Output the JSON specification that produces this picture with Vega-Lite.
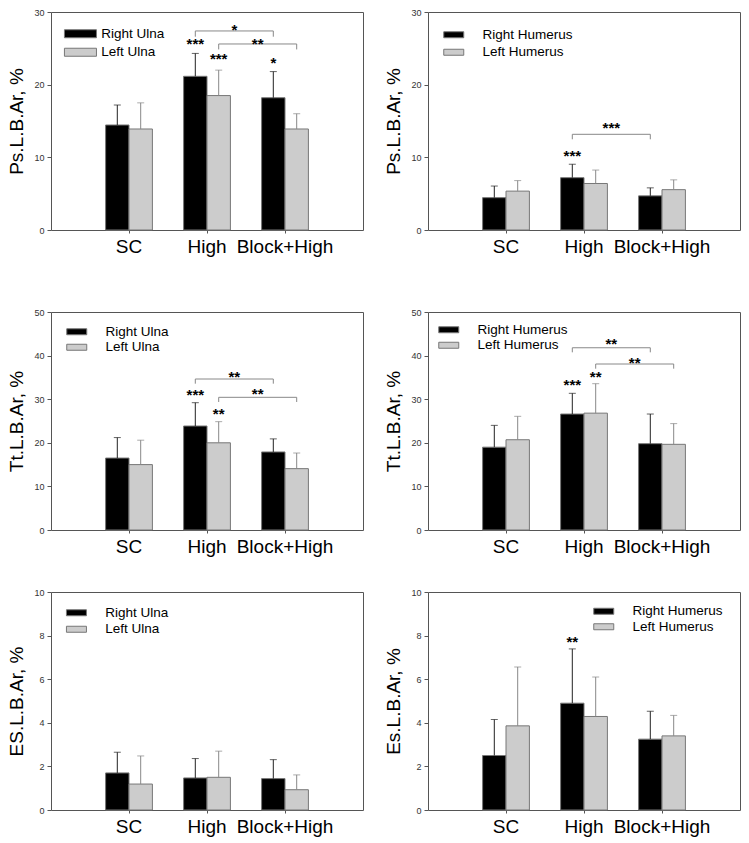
{
  "$schema": "https://vega.github.io/schema/vega-lite/v6.json",
  "background": "white",
  "padding": {"left": 7, "top": 7, "right": 0, "bottom": 0},
  "config": {
    "font": "Liberation Sans",
    "view": {"stroke": "#555555", "strokeWidth": 1},
    "axis": {"grid": false, "labelFont": "Liberation Sans", "titleFont": "Liberation Sans", "tickColor": "#555555"},
    "axisX": {"domain": false, "ticks": true, "tickSize": 3, "labelFontSize": 19, "labelColor": "#000000", "labelPadding": 4, "labelAngle": 0, "title": null},
    "axisY": {"domain": false, "tickSize": 4, "labelFontSize": 9, "labelColor": "#333333", "labelPadding": 3, "titleFontSize": 19, "titleFontWeight": "normal", "titleColor": "#000000", "titlePadding": 7},
    "legend": {"title": null, "labelFont": "Liberation Sans", "labelFontSize": 13.5, "labelColor": "#000000", "padding": 0, "symbolStrokeColor": "#777777", "symbolStrokeWidth": 1}
  },
  "datasets": {
    "p1": [
      {"cat": "SC", "side": "Right", "group": "Right Ulna", "mean": 14.45, "hi": 17.2},
      {"cat": "SC", "side": "Left", "group": "Left Ulna", "mean": 13.9, "hi": 17.5},
      {"cat": "High", "side": "Right", "group": "Right Ulna", "mean": 21.15, "hi": 24.3},
      {"cat": "High", "side": "Left", "group": "Left Ulna", "mean": 18.5, "hi": 22.0},
      {"cat": "Block+High", "side": "Right", "group": "Right Ulna", "mean": 18.2, "hi": 21.8},
      {"cat": "Block+High", "side": "Left", "group": "Left Ulna", "mean": 13.9, "hi": 16.0}
    ],
    "p1s": [
      {"cat": "High", "side": "Right", "y": 24.9, "label": "***"},
      {"cat": "High", "side": "Left", "y": 22.9, "label": "***"},
      {"cat": "Block+High", "side": "Right", "y": 22.3, "label": "*"}
    ],
    "p1l": [
      {"cat": "High", "side": "Right", "y": 26.85, "label": "*"},
      {"cat": "High", "side": "Left", "y": 24.95, "label": "**"}
    ],
    "p1b": [
      {"id": 1, "k": 1, "cat": "High", "side": "Right", "y": 26.6},
      {"id": 1, "k": 2, "cat": "High", "side": "Right", "y": 27.39},
      {"id": 1, "k": 3, "cat": "Block+High", "side": "Right", "y": 27.39},
      {"id": 1, "k": 4, "cat": "Block+High", "side": "Right", "y": 26.6},
      {"id": 2, "k": 1, "cat": "High", "side": "Left", "y": 24.85},
      {"id": 2, "k": 2, "cat": "High", "side": "Left", "y": 25.6},
      {"id": 2, "k": 3, "cat": "Block+High", "side": "Left", "y": 25.6},
      {"id": 2, "k": 4, "cat": "Block+High", "side": "Left", "y": 24.85}
    ],
    "p2": [
      {"cat": "SC", "side": "Right", "group": "Right Humerus", "mean": 4.45, "hi": 6.05},
      {"cat": "SC", "side": "Left", "group": "Left Humerus", "mean": 5.35, "hi": 6.8},
      {"cat": "High", "side": "Right", "group": "Right Humerus", "mean": 7.2, "hi": 9.05},
      {"cat": "High", "side": "Left", "group": "Left Humerus", "mean": 6.4, "hi": 8.25},
      {"cat": "Block+High", "side": "Right", "group": "Right Humerus", "mean": 4.7, "hi": 5.8},
      {"cat": "Block+High", "side": "Left", "group": "Left Humerus", "mean": 5.55, "hi": 6.9}
    ],
    "p2s": [
      {"cat": "High", "side": "Right", "y": 9.46, "label": "***"}
    ],
    "p2l": [
      {"cat": "High", "side": "Right", "y": 13.36, "label": "***"}
    ],
    "p2b": [
      {"id": 1, "k": 1, "cat": "High", "side": "Right", "y": 12.48},
      {"id": 1, "k": 2, "cat": "High", "side": "Right", "y": 13.17},
      {"id": 1, "k": 3, "cat": "Block+High", "side": "Right", "y": 13.17},
      {"id": 1, "k": 4, "cat": "Block+High", "side": "Right", "y": 12.48}
    ],
    "p3": [
      {"cat": "SC", "side": "Right", "group": "Right Ulna", "mean": 16.5, "hi": 21.2},
      {"cat": "SC", "side": "Left", "group": "Left Ulna", "mean": 15.0, "hi": 20.6},
      {"cat": "High", "side": "Right", "group": "Right Ulna", "mean": 23.85, "hi": 29.2},
      {"cat": "High", "side": "Left", "group": "Left Ulna", "mean": 20.0, "hi": 24.85},
      {"cat": "Block+High", "side": "Right", "group": "Right Ulna", "mean": 17.9, "hi": 20.9},
      {"cat": "Block+High", "side": "Left", "group": "Left Ulna", "mean": 14.07, "hi": 17.66}
    ],
    "p3s": [
      {"cat": "High", "side": "Right", "y": 29.9, "label": "***"},
      {"cat": "High", "side": "Left", "y": 25.5, "label": "**"}
    ],
    "p3l": [
      {"cat": "High", "side": "Right", "y": 34.0, "label": "**"},
      {"cat": "High", "side": "Left", "y": 30.06, "label": "**"}
    ],
    "p3b": [
      {"id": 1, "k": 1, "cat": "High", "side": "Right", "y": 33.56},
      {"id": 1, "k": 2, "cat": "High", "side": "Right", "y": 34.63},
      {"id": 1, "k": 3, "cat": "Block+High", "side": "Right", "y": 34.63},
      {"id": 1, "k": 4, "cat": "Block+High", "side": "Right", "y": 33.56},
      {"id": 2, "k": 1, "cat": "High", "side": "Left", "y": 29.36},
      {"id": 2, "k": 2, "cat": "High", "side": "Left", "y": 30.43},
      {"id": 2, "k": 3, "cat": "Block+High", "side": "Left", "y": 30.43},
      {"id": 2, "k": 4, "cat": "Block+High", "side": "Left", "y": 29.36}
    ],
    "p4": [
      {"cat": "SC", "side": "Right", "group": "Right Humerus", "mean": 19.0, "hi": 24.0},
      {"cat": "SC", "side": "Left", "group": "Left Humerus", "mean": 20.7, "hi": 26.07},
      {"cat": "High", "side": "Right", "group": "Right Humerus", "mean": 26.6, "hi": 31.35},
      {"cat": "High", "side": "Left", "group": "Left Humerus", "mean": 26.8, "hi": 33.56},
      {"cat": "Block+High", "side": "Right", "group": "Right Humerus", "mean": 19.8, "hi": 26.6},
      {"cat": "Block+High", "side": "Left", "group": "Left Humerus", "mean": 19.65, "hi": 24.4}
    ],
    "p4s": [
      {"cat": "High", "side": "Right", "y": 32.1, "label": "***"},
      {"cat": "High", "side": "Left", "y": 33.9, "label": "**"}
    ],
    "p4l": [
      {"cat": "High", "side": "Right", "y": 41.5, "label": "**"},
      {"cat": "High", "side": "Left", "y": 37.2, "label": "**"}
    ],
    "p4b": [
      {"id": 1, "k": 1, "cat": "High", "side": "Right", "y": 40.75},
      {"id": 1, "k": 2, "cat": "High", "side": "Right", "y": 41.8},
      {"id": 1, "k": 3, "cat": "Block+High", "side": "Right", "y": 41.8},
      {"id": 1, "k": 4, "cat": "Block+High", "side": "Right", "y": 40.75},
      {"id": 2, "k": 1, "cat": "High", "side": "Left", "y": 37.0},
      {"id": 2, "k": 2, "cat": "High", "side": "Left", "y": 38.07},
      {"id": 2, "k": 3, "cat": "Block+High", "side": "Left", "y": 38.07},
      {"id": 2, "k": 4, "cat": "Block+High", "side": "Left", "y": 37.0}
    ],
    "p5": [
      {"cat": "SC", "side": "Right", "group": "Right Ulna", "mean": 1.7, "hi": 2.65},
      {"cat": "SC", "side": "Left", "group": "Left Ulna", "mean": 1.19, "hi": 2.48},
      {"cat": "High", "side": "Right", "group": "Right Ulna", "mean": 1.47, "hi": 2.36},
      {"cat": "High", "side": "Left", "group": "Left Ulna", "mean": 1.5, "hi": 2.7},
      {"cat": "Block+High", "side": "Right", "group": "Right Ulna", "mean": 1.44, "hi": 2.31},
      {"cat": "Block+High", "side": "Left", "group": "Left Ulna", "mean": 0.93, "hi": 1.61}
    ],
    "p6": [
      {"cat": "SC", "side": "Right", "group": "Right Humerus", "mean": 2.5, "hi": 4.15},
      {"cat": "SC", "side": "Left", "group": "Left Humerus", "mean": 3.86, "hi": 6.56},
      {"cat": "High", "side": "Right", "group": "Right Humerus", "mean": 4.9, "hi": 7.39},
      {"cat": "High", "side": "Left", "group": "Left Humerus", "mean": 4.29, "hi": 6.1},
      {"cat": "Block+High", "side": "Right", "group": "Right Humerus", "mean": 3.25, "hi": 4.53},
      {"cat": "Block+High", "side": "Left", "group": "Left Humerus", "mean": 3.4, "hi": 4.34}
    ],
    "p6s": [
      {"cat": "High", "side": "Right", "y": 7.46, "label": "**"}
    ]
  },
  "spacing": 30,
  "resolve": {"scale": {"color": "independent", "y": "independent", "x": "independent"}, "legend": {"color": "independent"}},
  "vconcat": [
    {
      "spacing": 50,
      "resolve": {"scale": {"color": "independent", "y": "independent", "x": "independent"}, "legend": {"color": "independent"}},
      "vconcat": [
        {
          "spacing": 20,
          "resolve": {"scale": {"color": "independent", "y": "independent", "x": "independent"}, "legend": {"color": "independent"}},
          "hconcat": [
            {
              "width": 312, "height": 218,
              "layer": [
                {"data": {"name": "p1"}, "mark": {"type": "bar", "stroke": "#777777", "strokeWidth": 1},
                 "encoding": {
                   "x": {"field": "cat", "type": "nominal", "scale": {"domain": ["SC", "High", "Block+High"], "paddingInner": 0.4, "paddingOuter": 0.7}, "title": null},
                   "xOffset": {"field": "side", "type": "nominal", "scale": {"domain": ["Right", "Left"], "paddingInner": 0, "paddingOuter": 0}},
                   "y": {"field": "mean", "type": "quantitative", "scale": {"domain": [0, 30], "nice": false}, "axis": {"values": [0, 5, 10, 15, 20, 25, 30]}, "title": "Ps.L.B.Ar, %"},
                   "color": {"field": "group", "type": "nominal", "scale": {"domain": ["Right Ulna", "Left Ulna"], "range": ["#000000", "#cccccc"]},
                     "legend": {"orient": "none", "legendX": 22.7, "legendY": 15, "symbolType": "M-3,-0.75H3V0.75H-3Z", "symbolSize": 114, "labelOffset": 14, "rowPadding": 3.5}}
                 }},
                {"data": {"name": "p1"}, "mark": {"type": "rule", "strokeWidth": 1},
                 "encoding": {
                   "x": {"field": "cat", "type": "nominal"}, "xOffset": {"field": "side", "type": "nominal"},
                   "y": {"field": "mean", "type": "quantitative"}, "y2": {"field": "hi"},
                   "stroke": {"field": "side", "type": "nominal", "scale": {"domain": ["Right", "Left"], "range": ["#222222", "#888888"]}, "legend": null}
                 }},
                {"data": {"name": "p1"}, "mark": {"type": "tick", "size": 7, "thickness": 1},
                 "encoding": {
                   "x": {"field": "cat", "type": "nominal"}, "xOffset": {"field": "side", "type": "nominal"},
                   "y": {"field": "hi", "type": "quantitative"},
                   "fill": {"field": "side", "type": "nominal", "scale": {"domain": ["Right", "Left"], "range": ["#222222", "#888888"]}, "legend": null}
                 }},
                {"data": {"name": "p1b"}, "mark": {"type": "line", "stroke": "#888888", "strokeWidth": 1},
                 "encoding": {
                   "x": {"field": "cat", "type": "nominal"}, "xOffset": {"field": "side", "type": "nominal"},
                   "y": {"field": "y", "type": "quantitative"}, "detail": {"field": "id"}, "order": {"field": "k"}
                 }},
                {"data": {"name": "p1s"}, "mark": {"type": "text", "fontSize": 15, "fontWeight": "bold", "baseline": "alphabetic"},
                 "encoding": {
                   "x": {"field": "cat", "type": "nominal"}, "xOffset": {"field": "side", "type": "nominal"},
                   "y": {"field": "y", "type": "quantitative"}, "text": {"field": "label"}
                 }},
                {"data": {"name": "p1l"}, "mark": {"type": "text", "fontSize": 15, "fontWeight": "bold", "baseline": "alphabetic", "dx": 39},
                 "encoding": {
                   "x": {"field": "cat", "type": "nominal"}, "xOffset": {"field": "side", "type": "nominal"},
                   "y": {"field": "y", "type": "quantitative"}, "text": {"field": "label"}
                 }}
              ]
            },
            {
              "width": 312, "height": 218,
              "layer": [
                {"data": {"name": "p2"}, "mark": {"type": "bar", "stroke": "#777777", "strokeWidth": 1},
                 "encoding": {
                   "x": {"field": "cat", "type": "nominal", "scale": {"domain": ["SC", "High", "Block+High"], "paddingInner": 0.4, "paddingOuter": 0.7}, "title": null},
                   "xOffset": {"field": "side", "type": "nominal", "scale": {"domain": ["Right", "Left"], "paddingInner": 0, "paddingOuter": 0}},
                   "y": {"field": "mean", "type": "quantitative", "scale": {"domain": [0, 30], "nice": false}, "axis": {"values": [0, 5, 10, 15, 20, 25, 30]}, "title": "Ps.L.B.Ar, %"},
                   "color": {"field": "group", "type": "nominal", "scale": {"domain": ["Right Humerus", "Left Humerus"], "range": ["#000000", "#cccccc"]},
                     "legend": {"orient": "none", "legendX": 19, "legendY": 16, "symbolType": "M-2.5,-0.75H2.5V0.75H-2.5Z", "symbolSize": 64, "labelOffset": 22, "rowPadding": 2.5}}
                 }},
                {"data": {"name": "p2"}, "mark": {"type": "rule", "strokeWidth": 1},
                 "encoding": {
                   "x": {"field": "cat", "type": "nominal"}, "xOffset": {"field": "side", "type": "nominal"},
                   "y": {"field": "mean", "type": "quantitative"}, "y2": {"field": "hi"},
                   "stroke": {"field": "side", "type": "nominal", "scale": {"domain": ["Right", "Left"], "range": ["#222222", "#888888"]}, "legend": null}
                 }},
                {"data": {"name": "p2"}, "mark": {"type": "tick", "size": 7, "thickness": 1},
                 "encoding": {
                   "x": {"field": "cat", "type": "nominal"}, "xOffset": {"field": "side", "type": "nominal"},
                   "y": {"field": "hi", "type": "quantitative"},
                   "fill": {"field": "side", "type": "nominal", "scale": {"domain": ["Right", "Left"], "range": ["#222222", "#888888"]}, "legend": null}
                 }},
                {"data": {"name": "p2b"}, "mark": {"type": "line", "stroke": "#888888", "strokeWidth": 1},
                 "encoding": {
                   "x": {"field": "cat", "type": "nominal"}, "xOffset": {"field": "side", "type": "nominal"},
                   "y": {"field": "y", "type": "quantitative"}, "detail": {"field": "id"}, "order": {"field": "k"}
                 }},
                {"data": {"name": "p2s"}, "mark": {"type": "text", "fontSize": 15, "fontWeight": "bold", "baseline": "alphabetic"},
                 "encoding": {
                   "x": {"field": "cat", "type": "nominal"}, "xOffset": {"field": "side", "type": "nominal"},
                   "y": {"field": "y", "type": "quantitative"}, "text": {"field": "label"}
                 }},
                {"data": {"name": "p2l"}, "mark": {"type": "text", "fontSize": 15, "fontWeight": "bold", "baseline": "alphabetic", "dx": 39},
                 "encoding": {
                   "x": {"field": "cat", "type": "nominal"}, "xOffset": {"field": "side", "type": "nominal"},
                   "y": {"field": "y", "type": "quantitative"}, "text": {"field": "label"}
                 }}
              ]
            }
          ]
        },
        {
          "spacing": 20,
          "resolve": {"scale": {"color": "independent", "y": "independent", "x": "independent"}, "legend": {"color": "independent"}},
          "hconcat": [
            {
              "width": 312, "height": 218,
              "layer": [
                {"data": {"name": "p3"}, "mark": {"type": "bar", "stroke": "#777777", "strokeWidth": 1},
                 "encoding": {
                   "x": {"field": "cat", "type": "nominal", "scale": {"domain": ["SC", "High", "Block+High"], "paddingInner": 0.4, "paddingOuter": 0.7}, "title": null},
                   "xOffset": {"field": "side", "type": "nominal", "scale": {"domain": ["Right", "Left"], "paddingInner": 0, "paddingOuter": 0}},
                   "y": {"field": "mean", "type": "quantitative", "scale": {"domain": [0, 50], "nice": false}, "axis": {"values": [0, 10, 20, 30, 40, 50]}, "title": "Tt.L.B.Ar, %"},
                   "color": {"field": "group", "type": "nominal", "scale": {"domain": ["Right Ulna", "Left Ulna"], "range": ["#000000", "#cccccc"]},
                     "legend": {"orient": "none", "legendX": 19, "legendY": 13, "symbolType": "M-2.5,-0.75H2.5V0.75H-2.5Z", "symbolSize": 64, "labelOffset": 22, "rowPadding": 0.5}}
                 }},
                {"data": {"name": "p3"}, "mark": {"type": "rule", "strokeWidth": 1},
                 "encoding": {
                   "x": {"field": "cat", "type": "nominal"}, "xOffset": {"field": "side", "type": "nominal"},
                   "y": {"field": "mean", "type": "quantitative"}, "y2": {"field": "hi"},
                   "stroke": {"field": "side", "type": "nominal", "scale": {"domain": ["Right", "Left"], "range": ["#222222", "#888888"]}, "legend": null}
                 }},
                {"data": {"name": "p3"}, "mark": {"type": "tick", "size": 7, "thickness": 1},
                 "encoding": {
                   "x": {"field": "cat", "type": "nominal"}, "xOffset": {"field": "side", "type": "nominal"},
                   "y": {"field": "hi", "type": "quantitative"},
                   "fill": {"field": "side", "type": "nominal", "scale": {"domain": ["Right", "Left"], "range": ["#222222", "#888888"]}, "legend": null}
                 }},
                {"data": {"name": "p3b"}, "mark": {"type": "line", "stroke": "#888888", "strokeWidth": 1},
                 "encoding": {
                   "x": {"field": "cat", "type": "nominal"}, "xOffset": {"field": "side", "type": "nominal"},
                   "y": {"field": "y", "type": "quantitative"}, "detail": {"field": "id"}, "order": {"field": "k"}
                 }},
                {"data": {"name": "p3s"}, "mark": {"type": "text", "fontSize": 15, "fontWeight": "bold", "baseline": "alphabetic"},
                 "encoding": {
                   "x": {"field": "cat", "type": "nominal"}, "xOffset": {"field": "side", "type": "nominal"},
                   "y": {"field": "y", "type": "quantitative"}, "text": {"field": "label"}
                 }},
                {"data": {"name": "p3l"}, "mark": {"type": "text", "fontSize": 15, "fontWeight": "bold", "baseline": "alphabetic", "dx": 39},
                 "encoding": {
                   "x": {"field": "cat", "type": "nominal"}, "xOffset": {"field": "side", "type": "nominal"},
                   "y": {"field": "y", "type": "quantitative"}, "text": {"field": "label"}
                 }}
              ]
            },
            {
              "width": 312, "height": 218,
              "layer": [
                {"data": {"name": "p4"}, "mark": {"type": "bar", "stroke": "#777777", "strokeWidth": 1},
                 "encoding": {
                   "x": {"field": "cat", "type": "nominal", "scale": {"domain": ["SC", "High", "Block+High"], "paddingInner": 0.4, "paddingOuter": 0.7}, "title": null},
                   "xOffset": {"field": "side", "type": "nominal", "scale": {"domain": ["Right", "Left"], "paddingInner": 0, "paddingOuter": 0}},
                   "y": {"field": "mean", "type": "quantitative", "scale": {"domain": [0, 50], "nice": false}, "axis": {"values": [0, 10, 20, 30, 40, 50]}, "title": "Tt.L.B.Ar, %"},
                   "color": {"field": "group", "type": "nominal", "scale": {"domain": ["Right Humerus", "Left Humerus"], "range": ["#000000", "#cccccc"]},
                     "legend": {"orient": "none", "legendX": 14, "legendY": 11, "symbolType": "M-2.5,-0.75H2.5V0.75H-2.5Z", "symbolSize": 64, "labelOffset": 22, "rowPadding": 0.5}}
                 }},
                {"data": {"name": "p4"}, "mark": {"type": "rule", "strokeWidth": 1},
                 "encoding": {
                   "x": {"field": "cat", "type": "nominal"}, "xOffset": {"field": "side", "type": "nominal"},
                   "y": {"field": "mean", "type": "quantitative"}, "y2": {"field": "hi"},
                   "stroke": {"field": "side", "type": "nominal", "scale": {"domain": ["Right", "Left"], "range": ["#222222", "#888888"]}, "legend": null}
                 }},
                {"data": {"name": "p4"}, "mark": {"type": "tick", "size": 7, "thickness": 1},
                 "encoding": {
                   "x": {"field": "cat", "type": "nominal"}, "xOffset": {"field": "side", "type": "nominal"},
                   "y": {"field": "hi", "type": "quantitative"},
                   "fill": {"field": "side", "type": "nominal", "scale": {"domain": ["Right", "Left"], "range": ["#222222", "#888888"]}, "legend": null}
                 }},
                {"data": {"name": "p4b"}, "mark": {"type": "line", "stroke": "#888888", "strokeWidth": 1},
                 "encoding": {
                   "x": {"field": "cat", "type": "nominal"}, "xOffset": {"field": "side", "type": "nominal"},
                   "y": {"field": "y", "type": "quantitative"}, "detail": {"field": "id"}, "order": {"field": "k"}
                 }},
                {"data": {"name": "p4s"}, "mark": {"type": "text", "fontSize": 15, "fontWeight": "bold", "baseline": "alphabetic"},
                 "encoding": {
                   "x": {"field": "cat", "type": "nominal"}, "xOffset": {"field": "side", "type": "nominal"},
                   "y": {"field": "y", "type": "quantitative"}, "text": {"field": "label"}
                 }},
                {"data": {"name": "p4l"}, "mark": {"type": "text", "fontSize": 15, "fontWeight": "bold", "baseline": "alphabetic", "dx": 39},
                 "encoding": {
                   "x": {"field": "cat", "type": "nominal"}, "xOffset": {"field": "side", "type": "nominal"},
                   "y": {"field": "y", "type": "quantitative"}, "text": {"field": "label"}
                 }}
              ]
            }
          ]
        }
      ]
    },
    {
      "spacing": 20,
      "resolve": {"scale": {"color": "independent", "y": "independent", "x": "independent"}, "legend": {"color": "independent"}},
      "hconcat": [
        {
          "width": 312, "height": 218,
          "layer": [
            {"data": {"name": "p5"}, "mark": {"type": "bar", "stroke": "#777777", "strokeWidth": 1},
             "encoding": {
               "x": {"field": "cat", "type": "nominal", "scale": {"domain": ["SC", "High", "Block+High"], "paddingInner": 0.4, "paddingOuter": 0.7}, "title": null},
               "xOffset": {"field": "side", "type": "nominal", "scale": {"domain": ["Right", "Left"], "paddingInner": 0, "paddingOuter": 0}},
               "y": {"field": "mean", "type": "quantitative", "scale": {"domain": [0, 10], "nice": false}, "axis": {"values": [0, 2, 4, 6, 8, 10]}, "title": "ES.L.B.Ar, %"},
               "color": {"field": "group", "type": "nominal", "scale": {"domain": ["Right Ulna", "Left Ulna"], "range": ["#000000", "#cccccc"]},
                 "legend": {"orient": "none", "legendX": 18.7, "legendY": 14, "symbolType": "M-2.5,-0.75H2.5V0.75H-2.5Z", "symbolSize": 64, "labelOffset": 22, "rowPadding": 1.5}}
             }},
            {"data": {"name": "p5"}, "mark": {"type": "rule", "strokeWidth": 1},
             "encoding": {
               "x": {"field": "cat", "type": "nominal"}, "xOffset": {"field": "side", "type": "nominal"},
               "y": {"field": "mean", "type": "quantitative"}, "y2": {"field": "hi"},
               "stroke": {"field": "side", "type": "nominal", "scale": {"domain": ["Right", "Left"], "range": ["#222222", "#888888"]}, "legend": null}
             }},
            {"data": {"name": "p5"}, "mark": {"type": "tick", "size": 7, "thickness": 1},
             "encoding": {
               "x": {"field": "cat", "type": "nominal"}, "xOffset": {"field": "side", "type": "nominal"},
               "y": {"field": "hi", "type": "quantitative"},
               "fill": {"field": "side", "type": "nominal", "scale": {"domain": ["Right", "Left"], "range": ["#222222", "#888888"]}, "legend": null}
             }}
          ]
        },
        {
          "width": 312, "height": 218,
          "layer": [
            {"data": {"name": "p6"}, "mark": {"type": "bar", "stroke": "#777777", "strokeWidth": 1},
             "encoding": {
               "x": {"field": "cat", "type": "nominal", "scale": {"domain": ["SC", "High", "Block+High"], "paddingInner": 0.4, "paddingOuter": 0.7}, "title": null},
               "xOffset": {"field": "side", "type": "nominal", "scale": {"domain": ["Right", "Left"], "paddingInner": 0, "paddingOuter": 0}},
               "y": {"field": "mean", "type": "quantitative", "scale": {"domain": [0, 10], "nice": false}, "axis": {"values": [0, 2, 4, 6, 8, 10]}, "title": "Es.L.B.Ar, %"},
               "color": {"field": "group", "type": "nominal", "scale": {"domain": ["Right Humerus", "Left Humerus"], "range": ["#000000", "#cccccc"]},
                 "legend": {"orient": "none", "legendX": 169, "legendY": 12.5, "symbolType": "M-2.5,-0.75H2.5V0.75H-2.5Z", "symbolSize": 64, "labelOffset": 22, "rowPadding": 0.5}}
             }},
            {"data": {"name": "p6"}, "mark": {"type": "rule", "strokeWidth": 1},
             "encoding": {
               "x": {"field": "cat", "type": "nominal"}, "xOffset": {"field": "side", "type": "nominal"},
               "y": {"field": "mean", "type": "quantitative"}, "y2": {"field": "hi"},
               "stroke": {"field": "side", "type": "nominal", "scale": {"domain": ["Right", "Left"], "range": ["#222222", "#888888"]}, "legend": null}
             }},
            {"data": {"name": "p6"}, "mark": {"type": "tick", "size": 7, "thickness": 1},
             "encoding": {
               "x": {"field": "cat", "type": "nominal"}, "xOffset": {"field": "side", "type": "nominal"},
               "y": {"field": "hi", "type": "quantitative"},
               "fill": {"field": "side", "type": "nominal", "scale": {"domain": ["Right", "Left"], "range": ["#222222", "#888888"]}, "legend": null}
             }},
            {"data": {"name": "p6s"}, "mark": {"type": "text", "fontSize": 15, "fontWeight": "bold", "baseline": "alphabetic"},
             "encoding": {
               "x": {"field": "cat", "type": "nominal"}, "xOffset": {"field": "side", "type": "nominal"},
               "y": {"field": "y", "type": "quantitative"}, "text": {"field": "label"}
             }}
          ]
        }
      ]
    }
  ]
}
